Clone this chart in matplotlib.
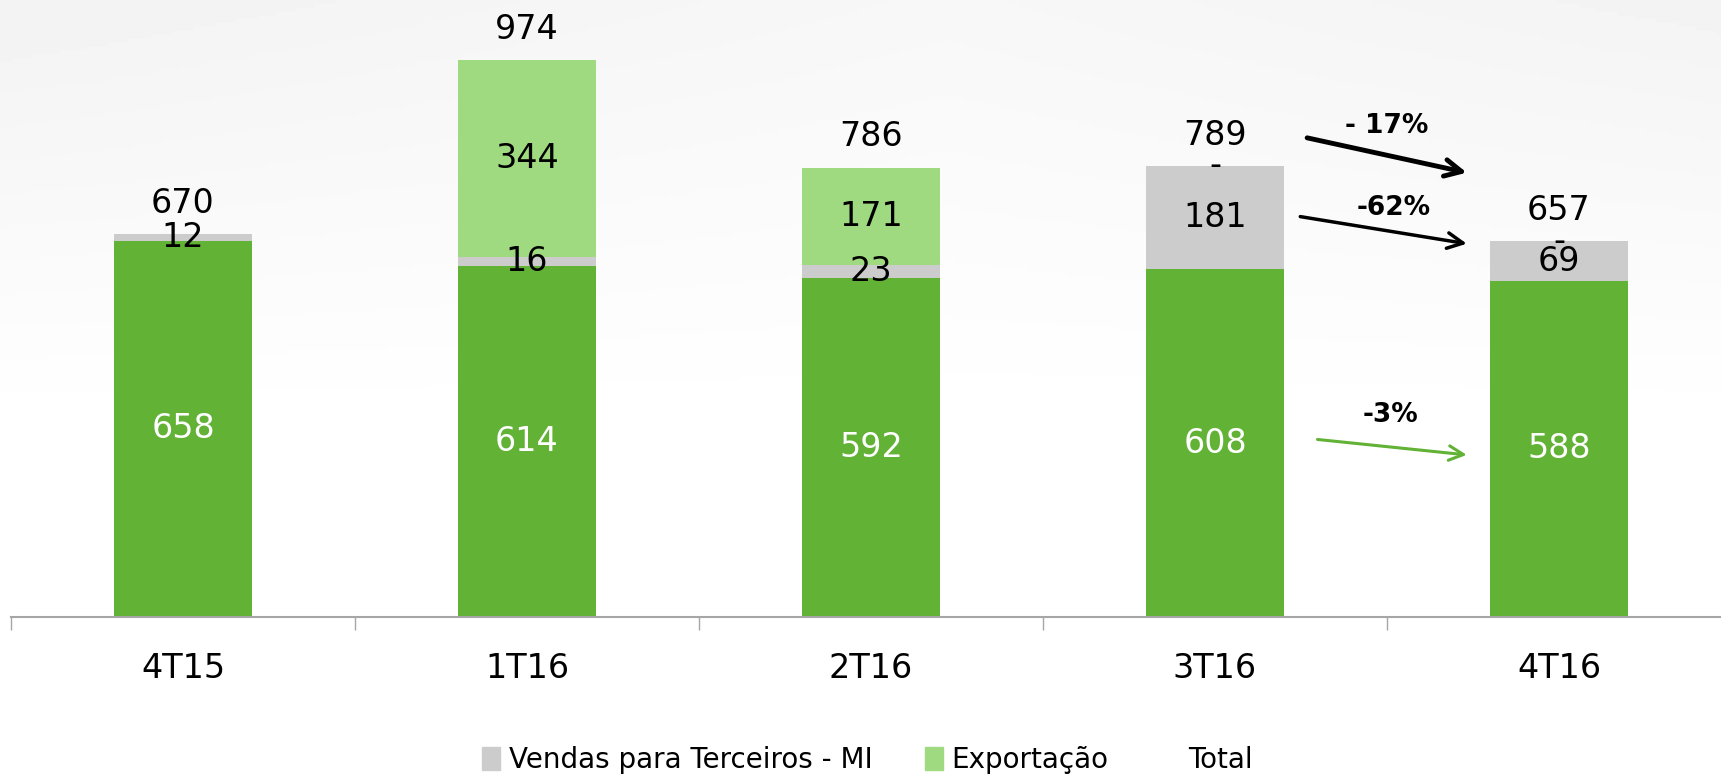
import matplotlib
matplotlib.use("Agg")
import matplotlib.pyplot as plt
from matplotlib.patches import Patch
from matplotlib.lines import Line2D
import numpy as np

# dados (mil toneladas)
quarters = ["4T15", "1T16", "2T16", "3T16", "4T16"]
mercado_interno = [658, 614, 592, 608, 588]
vendas_terceiros = [12, 16, 23, 181, 69]
exportacao = [0, 344, 171, 0, 0]
exportacao_labels = ["", "344", "171", "-", "-"]
totals = [670, 974, 786, 789, 657]

# variações 3T16 -> 4T16
var_total = "- 17%"
var_terceiros = "-62%"
var_mi = "-3%"

dark_green = "#62b236"
light_green = "#a0da80"
gray = "#cccccc"

plt.rcParams["font.family"] = ["DejaVu Sans"]

fig = plt.figure(figsize=(17.21, 7.77), dpi=100)

# fundo com leve degradê cinza no topo
bg = fig.add_axes([0, 0, 1, 1], zorder=-1)
yy, xx = np.mgrid[0:1:200j, 0:1:400j]
shade = np.clip(1 - yy / 0.55, 0, 1) * (0.6 + 0.4 * np.abs(xx - 0.55) / 0.55)
bg.imshow(1 - 0.05 * shade, cmap="gray", vmin=0, vmax=1, aspect="auto",
          extent=(0, 1, 0, 1), origin="upper")
bg.axis("off")

ax = fig.add_axes([11 / 1721, 0.2059, 1 - 11 / 1721, 1 - 0.2059])

x = np.arange(len(quarters))
w = 0.4
b1 = ax.bar(x, mercado_interno, w, color=dark_green)
b2 = ax.bar(x, vendas_terceiros, w, bottom=mercado_interno, color=gray)
bottom3 = np.array(mercado_interno) + np.array(vendas_terceiros)
b3 = ax.bar(x, exportacao, w, bottom=bottom3, color=light_green)

ax.bar_label(b1, labels=[str(v) for v in mercado_interno], label_type="center",
             color="white", fontsize=24)
ax.bar_label(b2, labels=[str(v) for v in vendas_terceiros], label_type="center",
             color="black", fontsize=24)
ax.bar_label(b3, labels=exportacao_labels, label_type="center",
             color="black", fontsize=24)

for xi, t in zip(x, totals):
    ax.annotate(str(t), (xi, t), xytext=(0, 22), textcoords="offset points",
                ha="center", va="center", fontsize=24)

# setas de variação
ax.annotate("", xy=(3.74, 776), xytext=(3.26, 839),
            arrowprops=dict(arrowstyle="->", lw=3.5, color="black",
                            mutation_scale=30))
ax.annotate("", xy=(3.74, 652), xytext=(3.24, 701),
            arrowprops=dict(arrowstyle="->", lw=2.5, color="black",
                            mutation_scale=28))
ax.annotate("", xy=(3.74, 283), xytext=(3.29, 311),
            arrowprops=dict(arrowstyle="->", lw=2.2, color=dark_green,
                            mutation_scale=26))
ax.text(3.50, 858, var_total, ha="center", va="center", fontsize=19,
        fontweight="bold")
ax.text(3.52, 715, var_terceiros, ha="center", va="center", fontsize=19,
        fontweight="bold")
ax.text(3.51, 353, var_mi, ha="center", va="center", fontsize=19,
        fontweight="bold")

ax.set_xlim(-0.5, 4.471)
ax.set_ylim(0, 1079)
for s in ["top", "right", "left"]:
    ax.spines[s].set_visible(False)
ax.spines["bottom"].set_color("#a6a6a6")
ax.spines["bottom"].set_linewidth(1.5)
ax.set_yticks([])
ax.set_xticks(x)
ax.set_xticklabels(quarters, fontsize=24)
ax.set_xticks(np.arange(-0.5, 4.5, 1), minor=True)
ax.tick_params(axis="x", which="major", length=0, pad=25)
ax.tick_params(axis="x", which="minor", length=9, width=1, color="#a6a6a6")
ax.patch.set_alpha(0)

handles = [Patch(color=gray), Patch(color=light_green),
           Line2D([], [], color="none")]
fig.legend(handles, ["Vendas para Terceiros - MI", "Exportação", "Total"],
           loc="center", bbox_to_anchor=(0.504, 0.022), ncol=3, frameon=False,
           fontsize=20, handlelength=0.65, handleheight=0.9,
           handletextpad=0.3, columnspacing=1.9)

fig.savefig("out.png", dpi=100)
